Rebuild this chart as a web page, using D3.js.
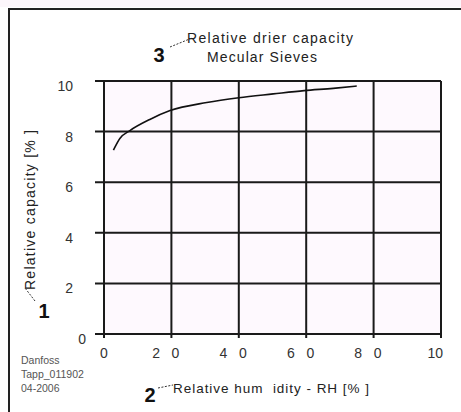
<!DOCTYPE html>
<html><head><meta charset="utf-8">
<script src="https://cdn.jsdelivr.net/npm/d3@7"></script>
<style>body{margin:0;background:#fff}svg{display:block}</style>
</head><body>
<svg id="c" width="461" height="412"></svg>
<script>
// data
const rhValues = [2.8, 4.7, 7.7, 13.6, 19.6, 30.5, 40, 50.2, 59.4, 68, 75];
const capacityValues = [7.27, 7.73, 8.04, 8.48, 8.83, 9.15, 9.34, 9.49, 9.62, 9.71, 9.8];
const xTickValues = [0, 20, 40, 60, 80, 100];
const xTickLabels = ["0", "2   0", "4   0", "6   0", "8   0", "10"];
const yTickValues = [0, 2, 4, 6, 8, 10];
const yTickLabels = ["0", "2", "4", "6", "8", "10"];
const titleLines = ["Relative drier capacity", "Mecular Sieves"];
const xTitle = "Relative hum  idity - RH [% ]";
const yTitle = "Relative capacity [% ]";
const footer = ["Danfoss", "Tapp_011902", "04-2006"];

const svg = d3.select("#c");
const font = "Liberation Sans, Arial, sans-serif";
const x = d3.scaleLinear().domain([0, 100]).range([104, 441]);
const y = d3.scaleLinear().domain([0, 10]).range([334, 81]);

// faint top band + frame
svg.append("rect").attr("x", 0).attr("y", 0).attr("width", 461).attr("height", 7).attr("fill", "#fcf6fb");
svg.append("path").attr("d", "M9,412V9H461").attr("fill", "none").attr("stroke", "#222").attr("stroke-width", 2);

// plot background
svg.append("rect").attr("x", x(0)).attr("y", y(10)).attr("width", x(100) - x(0)).attr("height", y(0) - y(10)).attr("fill", "#fef9fe");

// grid
const g = svg.append("g").attr("stroke", "#1a1a1a").attr("stroke-width", 2);
xTickValues.forEach(v => g.append("line").attr("x1", x(v)).attr("x2", x(v)).attr("y1", y(10)).attr("y2", y(0) + 4));
yTickValues.forEach(v => g.append("line").attr("x1", x(0) - 9).attr("x2", x(100)).attr("y1", y(v)).attr("y2", y(v)));

// tick labels
xTickValues.forEach((v, i) => {
  const last = i === xTickValues.length - 1;
  svg.append("text").attr("x", last ? x(v) + 2 : (i === 0 ? x(v) : x(v) + 8))
    .attr("y", 358).attr("text-anchor", last ? "end" : (i === 0 ? "middle" : "end"))
    .attr("font-family", font).attr("font-size", 14).attr("fill", "#333")
    .style("white-space", "pre").text(xTickLabels[i]);
});
yTickValues.forEach((v, i) => {
  svg.append("text").attr("x", v === 0 ? 86 : 73).attr("y", y(v) + 10)
    .attr("text-anchor", "end").attr("font-family", font).attr("font-size", 14).attr("fill", "#333")
    .text(yTickLabels[i]);
});

// curve
const line = d3.line().x((d, i) => x(rhValues[i])).y(d => y(d)).curve(d3.curveMonotoneX);
svg.append("path").datum(capacityValues).attr("d", line).attr("fill", "none").attr("stroke", "#111").attr("stroke-width", 1.6);

// titles
svg.append("text").attr("x", 187).attr("y", 43).attr("font-family", font).attr("font-size", 14)
  .attr("fill", "#222").attr("textLength", 166).text(titleLines[0]);
svg.append("text").attr("x", 207).attr("y", 62).attr("font-family", font).attr("font-size", 14)
  .attr("fill", "#222").attr("textLength", 110).text(titleLines[1]);
svg.append("text").attr("x", 159).attr("y", 62).attr("text-anchor", "middle").attr("font-family", font)
  .attr("font-size", 20).attr("font-weight", "bold").attr("fill", "#111").text("3");
svg.append("line").attr("x1", 170).attr("y1", 47).attr("x2", 192).attr("y2", 38).attr("stroke", "#333").attr("stroke-width", 1).attr("stroke-dasharray", "2,1.5");

// x title
svg.append("text").attr("x", 173).attr("y", 393).attr("font-family", font).attr("font-size", 13.5).attr("fill", "#222")
  .style("white-space", "pre").attr("textLength", 196).text(xTitle);
svg.append("text").attr("x", 150).attr("y", 402).attr("text-anchor", "middle").attr("font-family", font)
  .attr("font-size", 20).attr("font-weight", "bold").attr("fill", "#111").text("2");
svg.append("line").attr("x1", 158).attr("y1", 388).attr("x2", 173).attr("y2", 385).attr("stroke", "#333").attr("stroke-width", 1).attr("stroke-dasharray", "2,1.5");

// y title
svg.append("text").attr("transform", "translate(35,290) rotate(-90)").attr("font-family", font).attr("font-size", 14)
  .attr("fill", "#222").attr("textLength", 160).text(yTitle);
svg.append("text").attr("x", 44).attr("y", 318).attr("text-anchor", "middle").attr("font-family", font)
  .attr("font-size", 20).attr("font-weight", "bold").attr("fill", "#111").text("1");
svg.append("line").attr("x1", 35).attr("y1", 301).attr("x2", 25).attr("y2", 288).attr("stroke", "#333").attr("stroke-width", 1).attr("stroke-dasharray", "2,1.5");

// footer
footer.forEach((t, i) => {
  svg.append("text").attr("x", 21).attr("y", 364 + i * 14).attr("font-family", font).attr("font-size", 10.5)
    .attr("fill", "#555").text(t);
});
</script>
</body></html>
